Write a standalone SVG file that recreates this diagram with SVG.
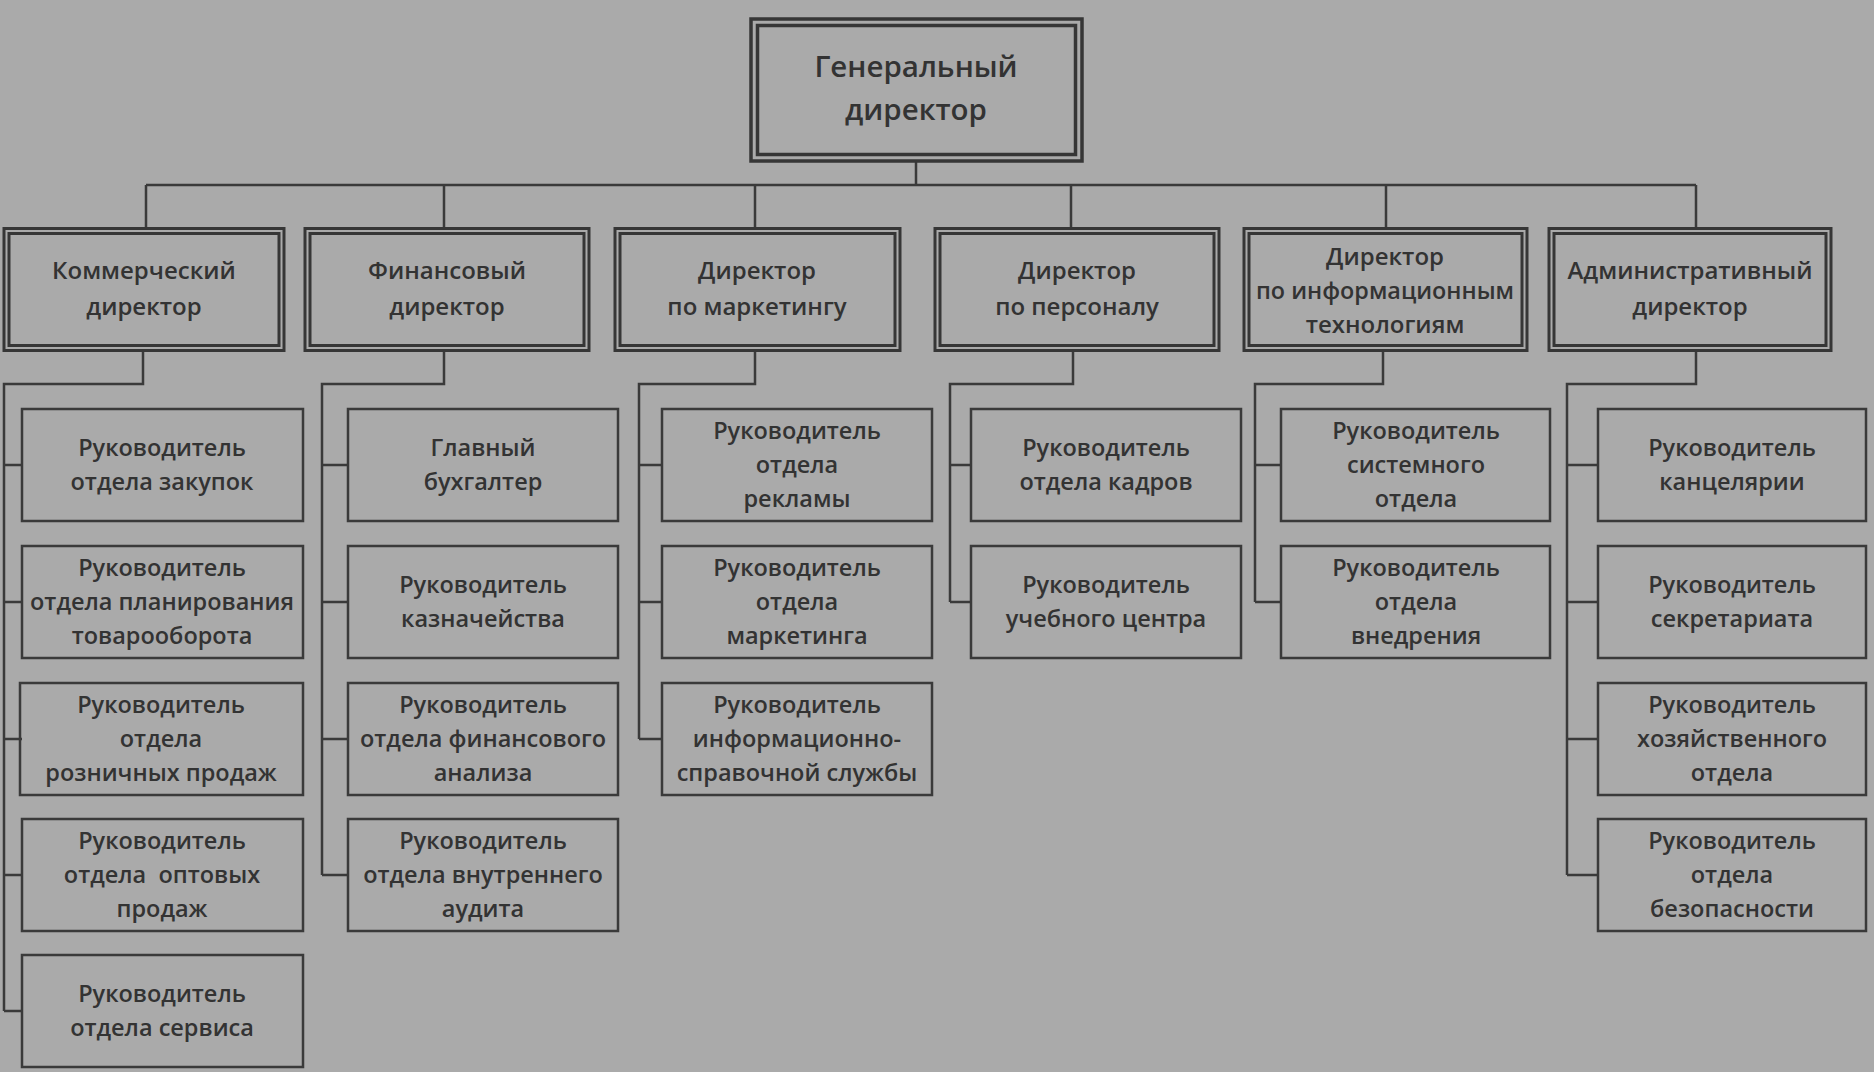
<svg xmlns="http://www.w3.org/2000/svg" width="1874" height="1072" viewBox="0 0 1874 1072">
<style>
.bg{fill:#aaaaaa}
.o{fill:none;stroke:#363636;stroke-width:3}
.i{fill:none;stroke:#363636;stroke-width:3}
.b{fill:none;stroke:#3a3a3a;stroke-width:2.5}
.c{fill:none;stroke:#3a3a3a;stroke-width:2.5}
text{font-family:"Open Sans","Noto Sans","DejaVu Sans",sans-serif;font-weight:600;fill:#333333;text-anchor:middle}
.t0{font-size:29.5px}
.t1{font-size:24px}
.t2{font-size:23.5px}
</style>
<rect class="bg" x="0" y="0" width="1874" height="1072"/>
<g id="connectors">
<path class="c" d="M916 162V185M146 185H1696M146 185V228M444 185V228M755 185V228M1071 185V228M1386 185V228M1696 185V228"/>
<path class="c" d="M143 351V384H4V1011M4 465H22M4 602H22M4 739H22M4 875H22M4 1011H22"/>
<path class="c" d="M444 351V384H322V875M322 465H348M322 602H348M322 739H348M322 875H348"/>
<path class="c" d="M755 351V384H639V739M639 465H662M639 602H662M639 739H662"/>
<path class="c" d="M1073 351V384H950V602M950 465H971M950 602H971"/>
<path class="c" d="M1383 351V384H1255V602M1255 465H1281M1255 602H1281"/>
<path class="c" d="M1696 351V384H1567V875M1567 465H1598M1567 602H1598M1567 739H1598M1567 875H1598"/>
</g>
<g id="gen">
<rect class="o" x="751" y="19" width="331" height="142" style="stroke-width:3.5"/>
<rect class="i" x="757.5" y="25.5" width="318" height="129" style="stroke-width:3.5"/>
<text class="t0" x="916" y="77">Генеральный</text>
<text class="t0" x="916" y="120">директор</text>
</g>
<g id="l2-1">
<rect class="o" x="4" y="228.5" width="280" height="122"/>
<rect class="i" x="9" y="233.5" width="270" height="112"/>
<text class="t1" x="144" y="279">Коммерческий</text>
<text class="t1" x="144" y="315">директор</text>
</g>
<g id="l2-2">
<rect class="o" x="305" y="228.5" width="284" height="122"/>
<rect class="i" x="310" y="233.5" width="274" height="112"/>
<text class="t1" x="447" y="279">Финансовый</text>
<text class="t1" x="447" y="315">директор</text>
</g>
<g id="l2-3">
<rect class="o" x="615" y="228.5" width="285" height="122"/>
<rect class="i" x="620" y="233.5" width="275" height="112"/>
<text class="t1" x="757" y="279">Директор</text>
<text class="t1" x="757" y="315">по маркетингу</text>
</g>
<g id="l2-4">
<rect class="o" x="935" y="228.5" width="284" height="122"/>
<rect class="i" x="940" y="233.5" width="274" height="112"/>
<text class="t1" x="1077" y="279">Директор</text>
<text class="t1" x="1077" y="315">по персоналу</text>
</g>
<g id="l2-5">
<rect class="o" x="1244" y="228.5" width="283" height="122"/>
<rect class="i" x="1249" y="233.5" width="273" height="112"/>
<text class="t1" x="1385" y="265">Директор</text>
<text class="t1" x="1385" y="299" textLength="258" lengthAdjust="spacingAndGlyphs">по информационным</text>
<text class="t1" x="1385" y="333">технологиям</text>
</g>
<g id="l2-6">
<rect class="o" x="1549" y="228.5" width="282" height="122"/>
<rect class="i" x="1554" y="233.5" width="272" height="112"/>
<text class="t1" x="1690" y="279">Административный</text>
<text class="t1" x="1690" y="315">директор</text>
</g>
<g id="c1-1"><rect class="b" x="22" y="409" width="281" height="112"/><text class="t2" x="162" y="456">Руководитель</text><text class="t2" x="162" y="490">отдела закупок</text></g>
<g id="c1-2"><rect class="b" x="22" y="546" width="281" height="112"/><text class="t2" x="162" y="576">Руководитель</text><text class="t2" x="162" y="610">отдела планирования</text><text class="t2" x="162" y="644">товарооборота</text></g>
<g id="c1-3"><rect class="b" x="20" y="683" width="283" height="112"/><text class="t2" x="161" y="713">Руководитель</text><text class="t2" x="161" y="747">отдела</text><text class="t2" x="161" y="781">розничных продаж</text></g>
<g id="c1-4"><rect class="b" x="22" y="819" width="281" height="112"/><text class="t2" x="162" y="849">Руководитель</text><text class="t2" x="162" y="883" xml:space="preserve">отдела  оптовых</text><text class="t2" x="162" y="917">продаж</text></g>
<g id="c1-5"><rect class="b" x="22" y="955" width="281" height="112"/><text class="t2" x="162" y="1002">Руководитель</text><text class="t2" x="162" y="1036">отдела сервиса</text></g>
<g id="c2-1"><rect class="b" x="348" y="409" width="270" height="112"/><text class="t2" x="483" y="456">Главный</text><text class="t2" x="483" y="490">бухгалтер</text></g>
<g id="c2-2"><rect class="b" x="348" y="546" width="270" height="112"/><text class="t2" x="483" y="593">Руководитель</text><text class="t2" x="483" y="627">казначейства</text></g>
<g id="c2-3"><rect class="b" x="348" y="683" width="270" height="112"/><text class="t2" x="483" y="713">Руководитель</text><text class="t2" x="483" y="747">отдела финансового</text><text class="t2" x="483" y="781">анализа</text></g>
<g id="c2-4"><rect class="b" x="348" y="819" width="270" height="112"/><text class="t2" x="483" y="849">Руководитель</text><text class="t2" x="483" y="883">отдела внутреннего</text><text class="t2" x="483" y="917">аудита</text></g>
<g id="c3-1"><rect class="b" x="662" y="409" width="270" height="112"/><text class="t2" x="797" y="439">Руководитель</text><text class="t2" x="797" y="473">отдела</text><text class="t2" x="797" y="507">рекламы</text></g>
<g id="c3-2"><rect class="b" x="662" y="546" width="270" height="112"/><text class="t2" x="797" y="576">Руководитель</text><text class="t2" x="797" y="610">отдела</text><text class="t2" x="797" y="644">маркетинга</text></g>
<g id="c3-3"><rect class="b" x="662" y="683" width="270" height="112"/><text class="t2" x="797" y="713">Руководитель</text><text class="t2" x="797" y="747">информационно-</text><text class="t2" x="797" y="781">справочной службы</text></g>
<g id="c4-1"><rect class="b" x="971" y="409" width="270" height="112"/><text class="t2" x="1106" y="456">Руководитель</text><text class="t2" x="1106" y="490">отдела кадров</text></g>
<g id="c4-2"><rect class="b" x="971" y="546" width="270" height="112"/><text class="t2" x="1106" y="593">Руководитель</text><text class="t2" x="1106" y="627">учебного центра</text></g>
<g id="c5-1"><rect class="b" x="1281" y="409" width="269" height="112"/><text class="t2" x="1416" y="439">Руководитель</text><text class="t2" x="1416" y="473">системного</text><text class="t2" x="1416" y="507">отдела</text></g>
<g id="c5-2"><rect class="b" x="1281" y="546" width="269" height="112"/><text class="t2" x="1416" y="576">Руководитель</text><text class="t2" x="1416" y="610">отдела</text><text class="t2" x="1416" y="644">внедрения</text></g>
<g id="c6-1"><rect class="b" x="1598" y="409" width="268" height="112"/><text class="t2" x="1732" y="456">Руководитель</text><text class="t2" x="1732" y="490">канцелярии</text></g>
<g id="c6-2"><rect class="b" x="1598" y="546" width="268" height="112"/><text class="t2" x="1732" y="593">Руководитель</text><text class="t2" x="1732" y="627">секретариата</text></g>
<g id="c6-3"><rect class="b" x="1598" y="683" width="268" height="112"/><text class="t2" x="1732" y="713">Руководитель</text><text class="t2" x="1732" y="747">хозяйственного</text><text class="t2" x="1732" y="781">отдела</text></g>
<g id="c6-4"><rect class="b" x="1598" y="819" width="268" height="112"/><text class="t2" x="1732" y="849">Руководитель</text><text class="t2" x="1732" y="883">отдела</text><text class="t2" x="1732" y="917">безопасности</text></g>
</svg>
